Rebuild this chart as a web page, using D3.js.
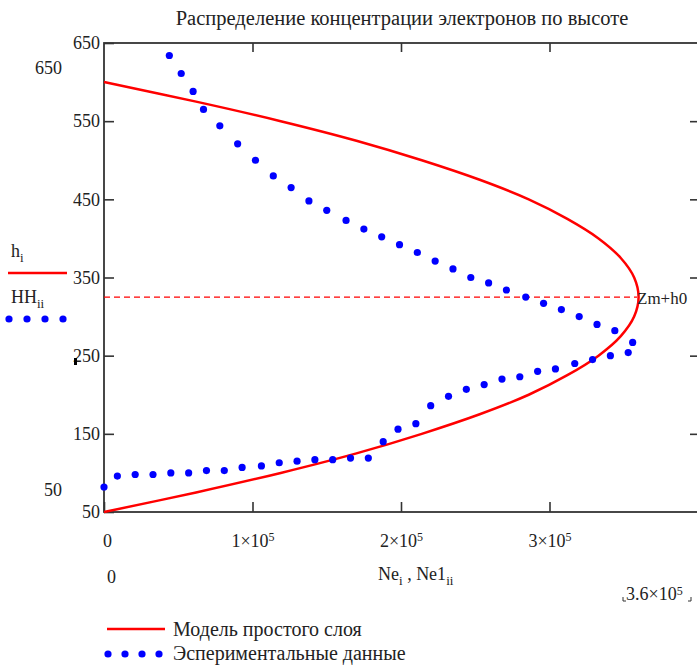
<!DOCTYPE html>
<html>
<head>
<meta charset="utf-8">
<style>
body { margin: 0; background: #fff; }
svg text { font-family: "Liberation Serif", "Times New Roman", serif; fill: #222; }
</style>
<script src="https://cdn.jsdelivr.net/npm/d3@7"></script>
</head>
<body>
<svg id="chart" width="697" height="665"></svg>
<script>
// model curve (simple layer)
var modelH  = [50, 75, 100, 125, 150, 175, 200, 225, 250, 275, 300, 325,
               350, 375, 400, 425, 450, 475, 500, 525, 550, 575, 600];
var modelNe = [0, 0.62e5, 1.19e5, 1.70e5, 2.14e5, 2.53e5, 2.86e5, 3.12e5, 3.33e5, 3.48e5, 3.57e5, 3.60e5,
               3.57e5, 3.48e5, 3.33e5, 3.12e5, 2.86e5, 2.53e5, 2.14e5, 1.70e5, 1.19e5, 0.62e5, 0];

// experimental points
var expNe = [0.44e5, 0.52e5, 0.60e5, 0.67e5, 0.78e5, 0.90e5, 1.02e5, 1.14e5, 1.26e5, 1.38e5,
             1.50e5, 1.63e5, 1.75e5, 1.87e5, 1.99e5, 2.11e5, 2.23e5, 2.35e5, 2.47e5, 2.59e5,
             2.71e5, 2.84e5, 2.96e5, 3.08e5, 3.20e5, 3.32e5, 3.44e5, 3.56e5, 3.53e5, 3.41e5,
             3.29e5, 3.17e5, 3.04e5, 2.92e5, 2.80e5, 2.68e5, 2.56e5, 2.44e5, 2.32e5, 2.20e5,
             2.10e5, 1.98e5, 1.88e5, 1.78e5, 1.66e5, 1.54e5, 1.42e5, 1.30e5, 1.18e5, 1.06e5,
             0.93e5, 0.81e5, 0.69e5, 0.57e5, 0.45e5, 0.33e5, 0.21e5, 0.09e5, 0];
var expH  = [634, 611, 588, 565, 544, 521, 500, 480, 465, 448,
             436, 423, 412, 402, 392, 382, 371, 361, 350, 343,
             334, 325, 317, 309, 300, 290, 282, 267, 254, 250,
             245, 240, 233, 230, 223, 220, 213, 207, 198, 186,
             163, 156, 140, 119, 119, 117, 117, 115, 113, 109,
             107, 103, 103, 100, 100, 98, 98, 96, 82];

var zmH0 = 325;   // Zm+h0 marker
var xTicks = [0, 1e5, 2e5, 3e5];
var yTicks = [50, 150, 250, 350, 450, 550, 650];

var svg = d3.select("#chart");
var pLeft = 104, pRight = 698, pTop = 43, pBottom = 512;

var x = d3.scaleLinear().domain([0, 4e5]).range([pLeft, pRight]);
var y = d3.scaleLinear().domain([50, 650]).range([pBottom, pTop]);

// title
svg.append("text")
   .attr("x", 402).attr("y", 25)
   .attr("text-anchor", "middle")
   .style("font-size", "20.5px")
   .text("Распределение концентрации электронов по высоте");

// axes
var axL = svg.append("g").attr("transform", "translate(" + pLeft + ",0)")
  .call(d3.axisLeft(y).tickValues(yTicks).tickSizeInner(-10).tickSizeOuter(0).tickPadding(4));
var axR = svg.append("g").attr("transform", "translate(" + pRight + ",0)")
  .call(d3.axisRight(y).tickValues(yTicks.slice(1, -1)).tickSizeInner(-8).tickSizeOuter(0).tickFormat(""));
var axT = svg.append("g").attr("transform", "translate(0," + pTop + ")")
  .call(d3.axisTop(x).tickValues(xTicks.slice(1)).tickSizeInner(-9).tickSizeOuter(0).tickFormat(""));
var axB = svg.append("g").attr("transform", "translate(0," + pBottom + ")")
  .call(d3.axisBottom(x).tickValues(xTicks).tickSizeInner(-10).tickSizeOuter(0).tickPadding(22));

[axL, axR, axT, axB].forEach(function(a) {
  a.select(".domain").remove();
  a.selectAll("line").attr("stroke", "#333").attr("stroke-width", 1.6);
  a.selectAll("text").style("font-size", "18px").attr("fill", "#222")
   .style("font-family", "Liberation Serif");
});

axB.selectAll("text").each(function(d) {
  var t = d3.select(this);
  if (d === 0) { t.attr("dx", 3); return; }
  t.text("");
  t.append("tspan").text((d / 1e5) + "×10");
  t.append("tspan").attr("dy", "-0.45em").style("font-size", "12px").text("5");
});

svg.append("rect")
   .attr("x", pLeft).attr("y", pTop)
   .attr("width", pRight - pLeft).attr("height", pBottom - pTop)
   .attr("fill", "none").attr("stroke", "#333").attr("stroke-width", 1.8);

// Zm+h0 dashed line
svg.append("line")
   .attr("x1", x(0)).attr("x2", 637)
   .attr("y1", y(zmH0)).attr("y2", y(zmH0))
   .attr("stroke", "#ff0000").attr("stroke-width", 1.3)
   .attr("stroke-dasharray", "6,4");

// model line
var line = d3.line()
   .x(function(d, i) { return x(modelNe[i]); })
   .y(function(d) { return y(d); })
   .curve(d3.curveCatmullRom);
svg.append("path")
   .datum(modelH)
   .attr("d", line)
   .attr("fill", "none").attr("stroke", "#ff0000").attr("stroke-width", 2.5);

// experimental dots
svg.selectAll("circle.exp")
   .data(expH)
   .enter().append("circle")
   .attr("class", "exp")
   .attr("cx", function(d, i) { return x(expNe[i]); })
   .attr("cy", function(d) { return y(d); })
   .attr("r", 3.6)
   .attr("fill", "#0000ff");

svg.append("text")
   .attr("x", 637).attr("y", y(zmH0) + 7)
   .style("font-size", "17px").attr("fill", "#111")
   .text("Zm+h0");

// axis limit labels
svg.append("text").attr("x", 62).attr("y", 74).attr("text-anchor", "end")
   .style("font-size", "18px").text("650");
svg.append("text").attr("x", 62).attr("y", 496).attr("text-anchor", "end")
   .style("font-size", "18px").text("50");
svg.append("text").attr("x", 107).attr("y", 583)
   .style("font-size", "18px").text("0");
svg.append("rect").attr("x", 74).attr("y", 358).attr("width", 3).attr("height", 7).attr("fill", "#000");

// x title
var xt = svg.append("text").attr("x", 378).attr("y", 580).style("font-size", "18px");
xt.append("tspan").text("Ne");
xt.append("tspan").attr("dy", 5).style("font-size", "13px").text("i");
xt.append("tspan").attr("dy", -5).text(" , Ne1");
xt.append("tspan").attr("dy", 5).style("font-size", "13px").text("ii");

// x limit label with corner marks
var lim = svg.append("text").attr("x", 626).attr("y", 600).style("font-size", "18px");
lim.append("tspan").text("3.6×10");
lim.append("tspan").attr("dy", "-0.45em").style("font-size", "12px").text("5");
svg.append("path").attr("d", "M623,597 v4 h3 M688,601 h3 v-4")
   .attr("fill", "none").attr("stroke", "#333").attr("stroke-width", 1);

// left legend (trace names)
var lh = svg.append("text").attr("x", 11).attr("y", 257).style("font-size", "18px");
lh.append("tspan").text("h");
lh.append("tspan").attr("dy", 5).style("font-size", "13px").text("i");
svg.append("line").attr("x1", 8).attr("x2", 67).attr("y1", 273).attr("y2", 273)
   .attr("stroke", "#ff0000").attr("stroke-width", 2.5);
var lhh = svg.append("text").attr("x", 11).attr("y", 303).style("font-size", "18px");
lhh.append("tspan").text("HH");
lhh.append("tspan").attr("dy", 5).style("font-size", "13px").text("ii");
svg.selectAll("circle.lg1")
   .data([9, 27, 45, 63])
   .enter().append("circle").attr("class", "lg1")
   .attr("cx", function(d) { return d; }).attr("cy", 319)
   .attr("r", 3.6).attr("fill", "#0000ff");

// bottom legend
svg.append("line").attr("x1", 107).attr("x2", 165).attr("y1", 629).attr("y2", 629)
   .attr("stroke", "#ff0000").attr("stroke-width", 2.5);
svg.append("text").attr("x", 173).attr("y", 636).style("font-size", "20px")
   .text("Модель простого слоя");
svg.selectAll("circle.lg2")
   .data([108, 125, 142, 159])
   .enter().append("circle").attr("class", "lg2")
   .attr("cx", function(d) { return d; }).attr("cy", 654)
   .attr("r", 3.6).attr("fill", "#0000ff");
svg.append("text").attr("x", 173).attr("y", 660).style("font-size", "20px")
   .text("Эспериментальные данные");
</script>
</body>
</html>
